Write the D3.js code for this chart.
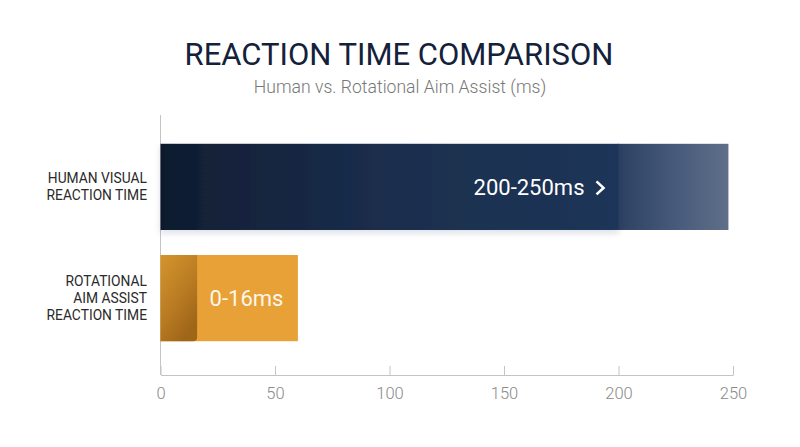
<!DOCTYPE html>
<html>
<head>
<meta charset="utf-8">
<script src="https://cdn.jsdelivr.net/npm/d3@7"></script>
<style>
  body { margin: 0; background: #fff; }
  svg { display: block; font-family: Roboto, "Noto Sans", sans-serif; }
</style>
</head>
<body>
<svg id="chart" width="800" height="447"></svg>
<script>
// data
var categories = ["HUMAN VISUAL\nREACTION TIME", "ROTATIONAL\nAIM ASSIST\nREACTION TIME"];
var barValues = [248, 60];
var coreValues = [200, 16];          // highlighted part of each bar
var barLabels = ["200-250ms", "0-16ms"];
var tickValues = [0, 50, 100, 150, 200, 250];

var svg = d3.select("#chart");
var defs = svg.append("defs");

function grad(id, stops, x2, y2) {
    var g = defs.append("linearGradient").attr("id", id)
        .attr("x1", 0).attr("y1", 0).attr("x2", x2).attr("y2", y2);
    stops.forEach(function(s) {
        g.append("stop").attr("offset", s[0]).attr("stop-color", s[1]);
    });
}
grad("navyCore", [[0, "#0e192c"], [0.12, "#132239"], [0.5, "#1b2e4d"], [1, "#1f3558"]], 1, 0);
grad("navyTail", [[0, "#2c4062"], [0.5, "#46597a"], [1, "#5f6f89"]], 1, 0);
grad("orangeCore", [[0, "#d4952f"], [0.6, "#b97b22"], [1, "#9f6619"]], 0.6, 1);

var shadow = defs.append("filter").attr("id", "soft")
    .attr("x", "-10%").attr("y", "-20%").attr("width", "120%").attr("height", "150%");
shadow.append("feDropShadow").attr("dx", 0).attr("dy", 3).attr("stdDeviation", 3)
    .attr("flood-color", "#1f3558").attr("flood-opacity", 0.15);

var x = d3.scaleLinear().domain([0, 250]).range([160.5, 733]);
var y = d3.scaleBand().domain(categories).range([116, 369])
    .paddingInner(0.225).paddingOuter(0.25);

// title
svg.append("text").attr("x", 399).attr("y", 65).attr("text-anchor", "middle")
    .attr("font-size", 31).attr("fill", "#14213a").text("REACTION TIME COMPARISON");
svg.append("text").attr("x", 400).attr("y", 93).attr("text-anchor", "middle")
    .attr("font-size", 17.6).attr("font-weight", 300).attr("fill", "#777777")
    .text("Human vs. Rotational Aim Assist (ms)");

// axes
var axisY = 375;
var axisG = svg.append("g").attr("transform", "translate(0," + axisY + ")");
axisG.call(d3.axisBottom(x).tickValues(tickValues).tickSizeInner(-9).tickSizeOuter(0).tickPadding(12));
axisG.select(".domain").attr("stroke", "#c4c4c4");
axisG.selectAll(".tick line").attr("stroke", "#c4c4c4");
axisG.selectAll(".tick text").attr("font-size", 16.5).attr("fill", "#8a8a8a")
    .attr("font-family", "Roboto, sans-serif").attr("font-weight", 300);
svg.append("line").attr("x1", x(0)).attr("x2", x(0)).attr("y1", 115).attr("y2", axisY)
    .attr("stroke", "#c4c4c4");

// bars
var bars = svg.append("g");

// human bar
var b0 = categories[0];
bars.append("rect").attr("x", x(coreValues[0]) - 1).attr("y", y(b0))
    .attr("width", x(barValues[0]) - x(coreValues[0]) + 1).attr("height", y.bandwidth())
    .attr("fill", "url(#navyTail)");
bars.append("rect").attr("x", x(0)).attr("y", y(b0))
    .attr("width", x(coreValues[0]) - x(0)).attr("height", y.bandwidth())
    .attr("fill", "url(#navyCore)").attr("filter", "url(#soft)");

// aim assist bar
var b1 = categories[1];
bars.append("rect").attr("x", x(0)).attr("y", y(b1))
    .attr("width", x(barValues[1]) - x(0)).attr("height", y.bandwidth())
    .attr("fill", "#e8a136");
var r = 4, cx0 = x(0), cx1 = x(coreValues[1]), cy0 = y(b1), cy1 = y(b1) + y.bandwidth();
bars.append("path")
    .attr("d", "M" + cx0 + "," + cy0 + "H" + cx1 + "V" + (cy1 - r) +
        "Q" + cx1 + "," + cy1 + " " + (cx1 - r) + "," + cy1 + "H" + cx0 + "Z")
    .attr("fill", "url(#orangeCore)");

// value labels
svg.append("text").attr("x", x(coreValues[0]) - 34).attr("y", y(b0) + y.bandwidth() / 2)
    .attr("dy", "0.35em").attr("text-anchor", "end").attr("font-size", 22)
    .attr("fill", "#ffffff").text(barLabels[0]);
var chx = x(coreValues[0]) - 18, chy = y(b0) + y.bandwidth() / 2 + 1;
svg.append("path")
    .attr("d", "M" + (chx - 4) + "," + (chy - 6.5) + "L" + (chx + 3) + "," + chy + "L" + (chx - 4) + "," + (chy + 6.5))
    .attr("fill", "none").attr("stroke", "#ffffff").attr("stroke-width", 2.6);
svg.append("text").attr("x", (x(coreValues[1]) + x(barValues[1])) / 2 - 1)
    .attr("y", y(b1) + y.bandwidth() / 2).attr("dy", "0.35em").attr("text-anchor", "middle")
    .attr("font-size", 22).attr("fill", "#fdf6ea").text(barLabels[1]);

// category labels
categories.forEach(function(c) {
    var lines = c.split("\n");
    var cy = y(c) + y.bandwidth() / 2;
    var t = svg.append("text").attr("text-anchor", "end").attr("font-size", 13.8)
        .attr("fill", "#2a2a2a");
    lines.forEach(function(l, i) {
        t.append("tspan").attr("x", 147)
            .attr("y", cy + (i - (lines.length - 1) / 2) * 17).attr("dy", "0.35em").text(l);
    });
});
</script>
</body>
</html>
